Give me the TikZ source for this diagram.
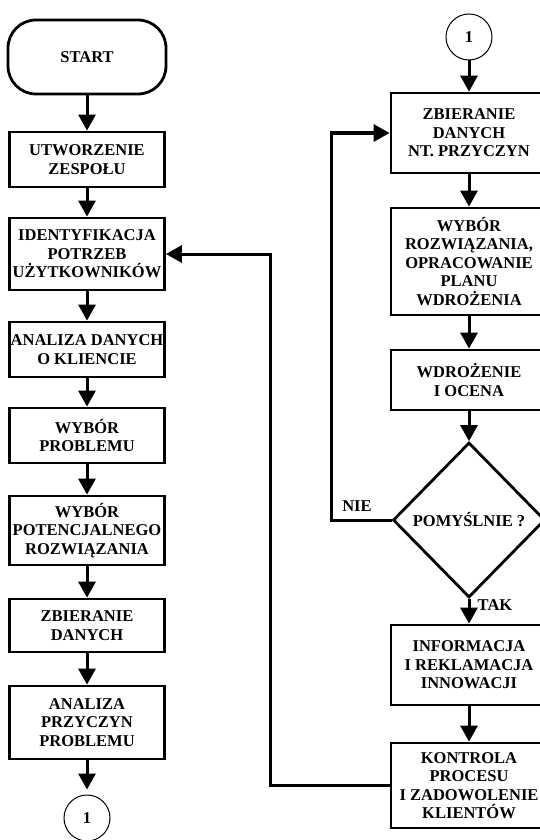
\documentclass[tikz,border=0pt]{standalone}
\usepackage{fontspec}
\setmainfont{Liberation Serif}
\usetikzlibrary{arrows.meta,shapes.geometric}
\newcommand\boxtxt{\bfseries\fontsize{16.5}{18.5}\selectfont}
\tikzset{
  box/.style={draw, line width=2.8pt, minimum width=155pt, inner sep=0pt, align=center, font=\boxtxt},
  term/.style={box, rounded corners=28pt},
  conn/.style={draw, circle, line width=1pt, minimum size=46pt, inner sep=0pt, font=\boxtxt},
  dia/.style={draw, diamond, aspect=1, line width=2.8pt, minimum width=152pt, minimum height=155pt, inner sep=0pt, font=\boxtxt},
  arr/.style={line width=3pt, -{Triangle[width=17pt,length=16pt]}},
  lbl/.style={font=\boxtxt}
}
\begin{document}
\begin{tikzpicture}[x=1pt,y=-1pt]
\useasboundingbox (0,0) rectangle (540,840);
\clip (0,0) rectangle (540,840);
% left column
\node[term, minimum height=74pt, minimum width=158pt] (s) at (87,57) {START};
\node[box, minimum height=55pt] (b1) at (87,159.5) {UTWORZENIE\\ZESPOŁU};
\node[box, minimum height=72pt] (b2) at (87,254) {IDENTYFIKACJA\\POTRZEB\\UŻYTKOWNIKÓW};
\node[box, minimum height=55pt] (b3) at (87,349.5) {ANALIZA DANYCH\\O KLIENCIE};
\node[box, minimum height=55pt] (b4) at (87,435.5) {WYBÓR\\PROBLEMU};
\node[box, minimum height=69pt] (b5) at (87,530.5) {WYBÓR\\POTENCJALNEGO\\ROZWIĄZANIA};
\node[box, minimum height=53pt] (b6) at (87,625.5) {ZBIERANIE\\DANYCH};
\node[box, minimum height=73pt] (b7) at (87,722.5) {ANALIZA\\PRZYCZYN\\PROBLEMU};
\node[conn] (c1) at (87,818) {1};
% right column
\node[conn] (c2) at (469,37) {1};
\node[box, minimum height=80pt, minimum width=156pt] (r1) at (469,133) {ZBIERANIE\\DANYCH\\NT. PRZYCZYN};
\node[box, minimum height=107pt, minimum width=156pt] (r2) at (469,261.5) {WYBÓR\\ROZWIĄZANIA,\\OPRACOWANIE\\PLANU\\WDROŻENIA};
\node[box, minimum height=60pt, minimum width=156pt] (r3) at (469,380) {WDROŻENIE\\I OCENA};
\node[dia] (dec) at (469,520) {POMYŚLNIE ?};
\node[box, minimum height=80pt, minimum width=156pt] (r4) at (469,665) {INFORMACJA\\I REKLAMACJA\\INNOWACJI};
\node[box, minimum height=85pt, minimum width=156pt] (r5) at (469,785.5) {KONTROLA\\PROCESU\\I ZADOWOLENIE\\KLIENTÓW};
% labels
\node[lbl] (nie) at (357,506) {NIE};
\node[lbl] (tak) at (495,605) {TAK};
% helper coordinates for loops
\coordinate (nx) at (331,0);
\coordinate (fx) at (270,0);
% left arrows
\draw[arr] (s) -- (b1);
\draw[arr] (b1) -- (b2);
\draw[arr] (b2) -- (b3);
\draw[arr] (b3) -- (b4);
\draw[arr] (b4) -- (b5);
\draw[arr] (b5) -- (b6);
\draw[arr] (b6) -- (b7);
\draw[arr, shorten >=5pt] (b7) -- (c1);
% right arrows
\draw[arr] (c2) -- (r1);
\draw[arr] (r1) -- (r2);
\draw[arr] (r2) -- (r3);
\draw[arr] (r3) -- (dec);
\draw[arr] (dec) -- (r4);
\draw[arr] (r4) -- (r5);
% loops
\draw[arr] (dec.west) -- (dec.west -| nx) |- (r1.west);
\draw[arr] (r5.west) -- (r5.west -| fx) |- (b2.east);
\end{tikzpicture}
\end{document}
